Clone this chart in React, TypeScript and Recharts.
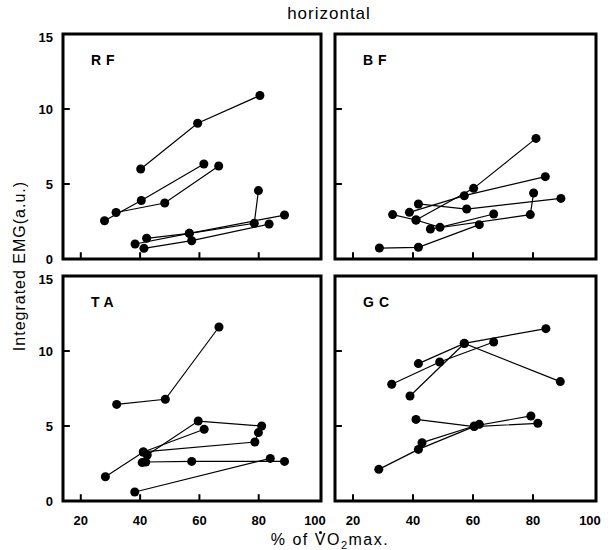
import React from 'react';
import { ScatterChart, Scatter, XAxis, YAxis, ZAxis, ReferenceArea, ReferenceLine } from 'recharts';

// tick values shared by all four panels
const xTicks = [20, 40, 60, 80, 100];
const yTicks = [0, 5, 10, 15];
const xInner = [20, 40, 60, 80];
const yInner = [5, 10];

// % of VO2max per subject (one inner array per subject)
const rfPct = [[40.2, 59.4, 80.4], [28.0, 40.4, 61.5], [31.9, 48.3, 66.5], [38.3, 56.6, 88.7], [42.2, 56.6, 78.5, 79.9], [41.3, 57.4, 83.5]];
const rfEmg = [[6.0, 9.05, 10.9], [2.55, 3.9, 6.33], [3.1, 3.73, 6.2], [1.0, 1.71, 2.93], [1.38, 1.71, 2.38, 4.56], [0.71, 1.22, 2.33]];

const bfPct = [[28.8, 41.8, 62.1], [41.0, 60.2, 81.0], [38.8, 57.1, 84.1], [41.8, 57.9, 89.3], [33.2, 41.0, 49.0, 66.9], [45.8, 79.1, 80.2]];
const bfEmg = [[0.73, 0.78, 2.29], [2.6, 4.71, 8.04], [3.11, 4.22, 5.49], [3.67, 3.33, 4.04], [2.96, 2.6, 2.11, 3.0], [2.0, 2.96, 4.4]];

const taPct = [[32.1, 48.5, 66.6], [28.3, 41.1, 61.6], [42.4, 59.6, 81.0], [41.1, 78.7, 79.9], [40.7, 41.9, 57.4, 88.7], [38.2, 83.9]];
const taEmg = [[6.44, 6.78, 11.6], [1.62, 3.27, 4.78], [3.07, 5.33, 5.0], [3.27, 3.93, 4.56], [2.56, 2.6, 2.64, 2.64], [0.6, 2.84]];

const gcPct = [[32.9, 48.9, 66.9], [41.8, 57.1, 84.3], [39.0, 57.1, 89.1], [41.0, 60.4, 81.6], [28.6, 41.8, 62.1], [43.0, 60.4, 79.3]];
const gcEmg = [[7.78, 9.27, 10.6], [9.16, 10.51, 11.49], [7.0, 10.5, 7.96], [5.44, 4.96, 5.18], [2.11, 3.44, 5.11], [3.89, 5.0, 5.67]];

const FONT = '"Liberation Sans", Arial, sans-serif';
const PH = 225;
const ML = 40, MT = 6, MB = 30, MR = 6;
const X0 = 14, X1 = 101;

function makeXTick(showLabel: boolean) {
  return (props: any) => {
    const { x, y, payload } = props;
    if (!showLabel) return <g />;
    return (
      <text x={x} y={y + 24} textAnchor="middle" fontFamily={FONT} fontSize={13} fontWeight={700} fill="#000">
        {payload.value}
      </text>
    );
  };
}

function makeYTick(showLabel: boolean) {
  return (props: any) => {
    const { x, y, payload } = props;
    if (!showLabel) return <g />;
    return (
      <text x={x - 10} y={y + 5} textAnchor="end" fontFamily={FONT} fontSize={13} fontWeight={700} fill="#000">
        {payload.value}
      </text>
    );
  };
}

interface PanelProps {
  label: string;
  pct: number[][];
  emg: number[][];
  left: number;
  top: number;
  width: number;
  showX: boolean;
  showY: boolean;
}

function Panel({ label, pct, emg, left, top, width, showX, showY }: PanelProps) {
  const series = pct.map((xs, i) => xs.map((x, j) => ({ x, y: emg[i][j] })));

  return (
    <div style={{ position: 'absolute', left: left - ML, top: top - MT }}>
      <ScatterChart width={ML + width + MR} height={MT + PH + MB} margin={{ top: MT, right: MR, left: 0, bottom: 0 }}>
        <XAxis
          type="number"
          dataKey="x"
          domain={[X0, X1]}
          ticks={xTicks}
          allowDataOverflow
          height={MB}
          axisLine={false}
          tickLine={false}
          tickSize={0}
          tickMargin={0}
          tick={makeXTick(showX)}
        />
        <YAxis
          type="number"
          dataKey="y"
          domain={[0, 15]}
          ticks={yTicks}
          allowDataOverflow
          width={ML}
          axisLine={false}
          tickLine={false}
          tickSize={0}
          tickMargin={0}
          tick={makeYTick(showY)}
        />
        <ZAxis type="number" range={[55, 55]} />
        {/* inward tick marks */}
        {xInner.map((v) => (
          <ReferenceLine
            key={`xt${v}`}
            segment={[{ x: v, y: 0 }, { x: v, y: 0.45 }]}
            stroke="#000"
            strokeWidth={2}
            ifOverflow="visible"
          />
        ))}
        {yInner.map((v) => (
          <ReferenceLine
            key={`yt${v}`}
            segment={[{ x: X0, y: v }, { x: X0 + 2.3, y: v }]}
            stroke="#000"
            strokeWidth={2}
            ifOverflow="visible"
          />
        ))}
        <ReferenceArea x1={X0} x2={X1} y1={0} y2={15} fill="none" stroke="#000" strokeWidth={3} ifOverflow="visible" />
        {series.map((s, i) => (
          <Scatter
            key={i}
            data={s}
            fill="#000"
            shape="circle"
            line={{ stroke: '#000', strokeWidth: 1.2 }}
            lineType="joint"
            isAnimationActive={false}
          />
        ))}
      </ScatterChart>
      <div
        style={{
          position: 'absolute',
          left: ML + 28,
          top: MT + 19,
          fontFamily: FONT,
          fontSize: 14,
          lineHeight: '14px',
          fontWeight: 700,
          letterSpacing: 5,
        }}
      >
        {label}
      </div>
    </div>
  );
}

export default function App() {
  return (
    <div style={{ position: 'absolute', left: 0, top: 0, width: 612, height: 550, background: '#fff', fontFamily: FONT }}>
      <div style={{ position: 'absolute', left: 0, width: 658, top: 4, textAlign: 'center', fontSize: 17, letterSpacing: 1 }}>
        horizontal
      </div>
      <div
        style={{
          position: 'absolute',
          left: 20,
          top: 266,
          transform: 'translate(-50%, -50%) rotate(-90deg)',
          whiteSpace: 'nowrap',
          fontSize: 16,
          letterSpacing: 1,
        }}
      >
        Integrated EMG(a.u.)
      </div>
      <div style={{ position: 'absolute', left: 0, width: 660, top: 531, textAlign: 'center', fontSize: 16, lineHeight: '18px', letterSpacing: 1.5 }}>
        % of{' '}
        <span style={{ position: 'relative', display: 'inline-block' }}>
          V
          <span
            style={{
              position: 'absolute',
              left: '50%',
              top: 0,
              width: 3,
              height: 3,
              marginLeft: -2,
              borderRadius: 2,
              background: '#000',
            }}
          />
        </span>
        O<sub style={{ fontSize: 11 }}>2</sub>max.
      </div>
      <Panel label="RF" pct={rfPct} emg={rfEmg} left={63} top={34} width={258} showX={false} showY />
      <Panel label="BF" pct={bfPct} emg={bfEmg} left={335} top={34} width={261} showX={false} showY={false} />
      <Panel label="TA" pct={taPct} emg={taEmg} left={63} top={276} width={258} showX showY />
      <Panel label="GC" pct={gcPct} emg={gcEmg} left={335} top={276} width={261} showX showY={false} />
    </div>
  );
}
